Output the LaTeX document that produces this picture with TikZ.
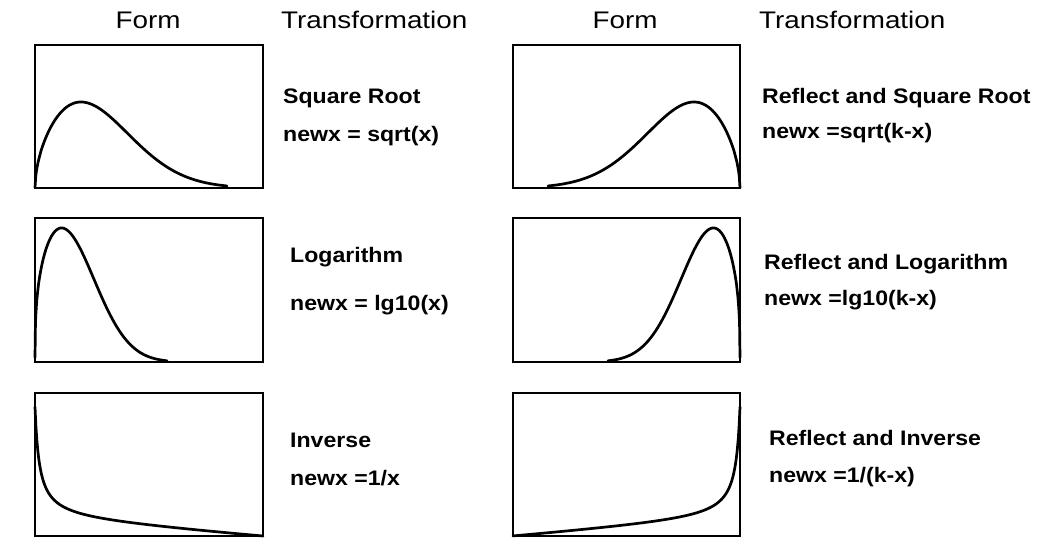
\documentclass[tikz,border=0pt]{standalone}
\usepackage{fontspec}
\setmainfont{Liberation Sans}
\usepackage{graphicx}
\tikzset{
  frame/.style={line width=2.5pt},
  curve/.style={line width=2.7pt, line join=round, line cap=round},
  hdr/.style={inner sep=0pt, anchor=base, font=\fontsize{24}{28}\selectfont},
  hdrw/.style={inner sep=0pt, anchor=base west, font=\fontsize{24}{28}\selectfont},
  lbl/.style={inner sep=0pt, anchor=base west, font=\bfseries\fontsize{21}{25}\selectfont},
}
\newcommand\hs[1]{\scalebox{1.16}[1]{#1}}
\newcommand\ls[1]{\scalebox{1.1}[1]{#1}}
\begin{document}
\begin{tikzpicture}[x=1pt, y=-1pt,
  declare function={
    sqf(\u)=pow(\u/46,0.55)*exp(-0.275*(pow(\u/46,2)-1));
    lgf(\u)=pow(\u/27,0.35)*exp(-0.165*(pow(\u/27,2.2)-1));
    ivf(\u)=508/(\u+4.5)-508/232.5+0.08*(228-\u);
  }]
\useasboundingbox[fill=white] (0,0) rectangle (1063,547);

% headers
\node[hdr]  (formL)  at (148,28) {\hs{Form}};
\node[hdrw] (transL) at (281,28) {\hs{Transformation}};
\node[hdr]  (formR)  at (625,28) {\hs{Form}};
\node[hdrw] (transR) at (759,28) {\hs{Transformation}};

% boxes
\draw[frame] (35,45)  rectangle (263,188);
\draw[frame] (35,218) rectangle (263,362);
\draw[frame] (35,393) rectangle (263,536);
\draw[frame] (513,45)  rectangle (740,188);
\draw[frame] (513,218) rectangle (740,362);
\draw[frame] (513,393) rectangle (740,536);

% curves left
\draw[curve] plot[domain=0.001:192, samples=250] ({35+\x},{188-86*sqf(\x)});
\draw[curve] plot[domain=0.001:132, samples=300] ({35+\x},{362-134*lgf(\x)});
\draw[curve] plot[domain=0:228, samples=250] ({35+\x},{536-ivf(\x)});
% curves right (mirrored)
\draw[curve] plot[domain=0.001:192, samples=250] ({740-\x},{188-86*sqf(\x)});
\draw[curve] plot[domain=0.001:132, samples=300] ({740-\x},{362-134*lgf(\x)});
\draw[curve] plot[domain=0:227, samples=250] ({740-\x},{536-ivf(\x)});

% labels left
\node[lbl] (sqT) at (283,103) {\ls{Square Root}};
\node[lbl] (sqF) at (283,141) {\ls{newx = sqrt(x)}};
\node[lbl] (lgT) at (290,262) {\ls{Logarithm}};
\node[lbl] (lgF) at (290,310) {\ls{newx = lg10(x)}};
\node[lbl] (ivT) at (290,447) {\ls{Inverse}};
\node[lbl] (ivF) at (290,485) {\ls{newx =1/x}};
% labels right
\node[lbl] (rsqT) at (762,103) {\ls{Reflect and Square Root}};
\node[lbl] (rsqF) at (762,138) {\ls{newx =sqrt(k-x)}};
\node[lbl] (rlgT) at (764,269) {\ls{Reflect and Logarithm}};
\node[lbl] (rlgF) at (764,305) {\ls{newx =lg10(k-x)}};
\node[lbl] (rivT) at (769,445) {\ls{Reflect and Inverse}};
\node[lbl] (rivF) at (769,482) {\ls{newx =1/(k-x)}};
\end{tikzpicture}
\end{document}
